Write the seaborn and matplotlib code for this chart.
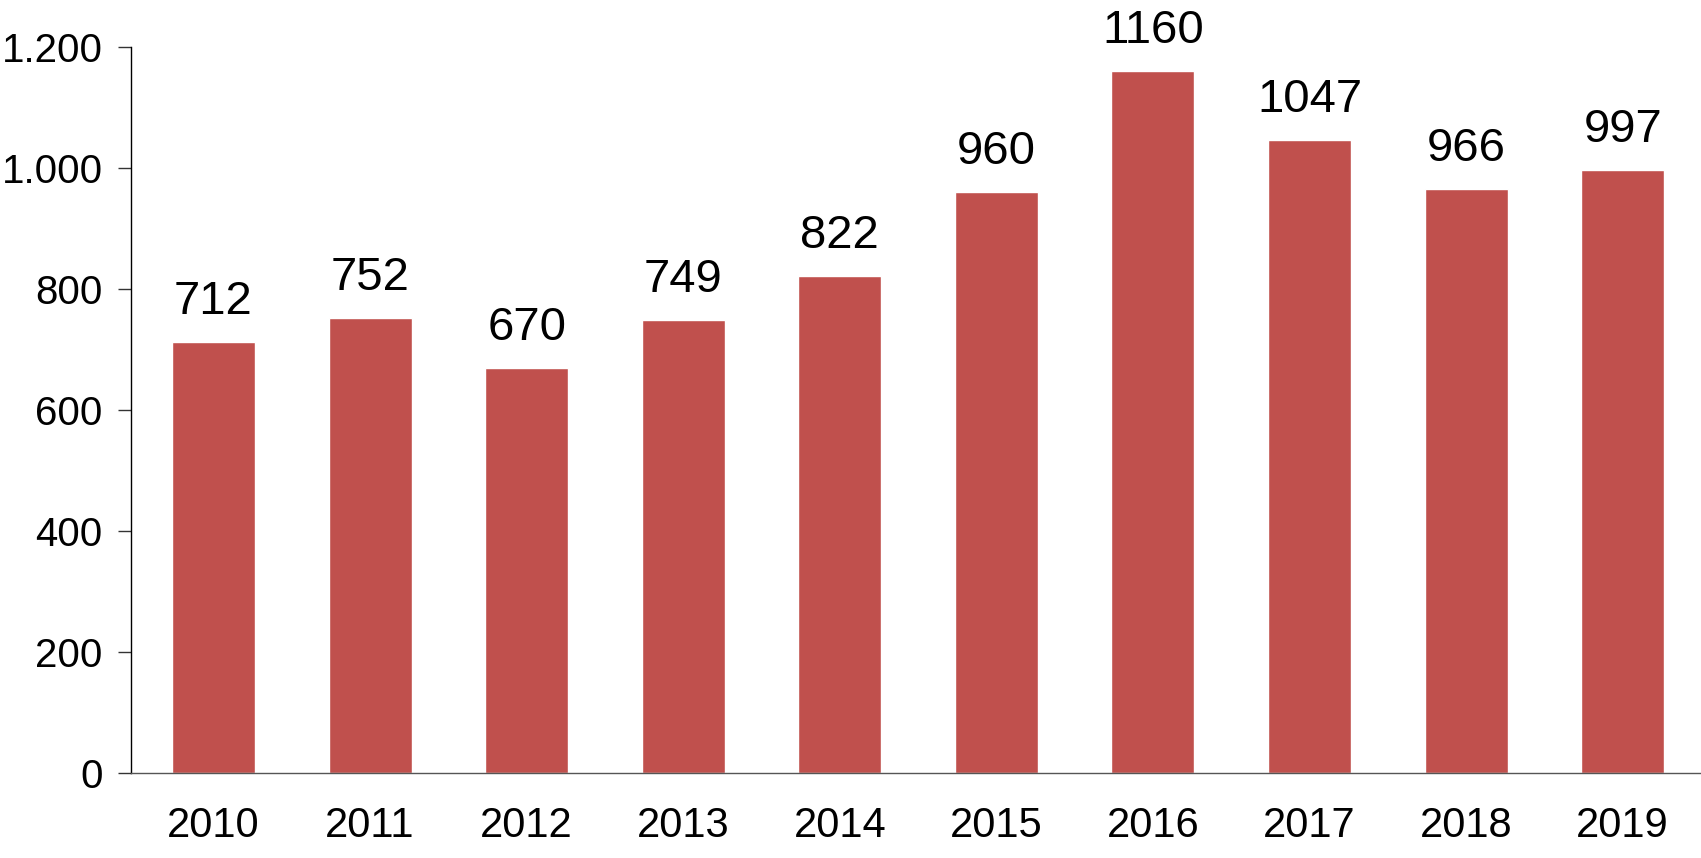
import pandas as pd
import seaborn as sns
import matplotlib.pyplot as plt

years = ['2010', '2011', '2012', '2013', '2014', '2015', '2016', '2017', '2018', '2019']
values = [712, 752, 670, 749, 822, 960, 1160, 1047, 966, 997]
ytick_vals = [0, 200, 400, 600, 800, 1000, 1200]
ytick_labels = ['0', '200', '400', '600', '800', '1.000', '1.200']

sns.set_style('white')
plt.rcParams['font.family'] = ['Liberation Sans', 'DejaVu Sans']
plt.rcParams['text.color'] = 'black'
plt.rcParams['xtick.color'] = 'black'
plt.rcParams['ytick.color'] = 'black'

df = pd.DataFrame({'year': years, 'value': values})

fig = plt.figure(figsize=(17.01, 8.58), dpi=100)
ax = fig.add_axes([0.077, 0.0994, 0.923, 0.8455])

sns.barplot(data=df, x='year', y='value', color='#C0504D', saturation=1,
            width=0.53, ax=ax)

labels = ax.bar_label(ax.containers[0], labels=[str(v) for v in values],
                      padding=13, fontsize=34, color='black')
for t in labels:
    t.set_clip_on(False)

ax.set_xlim(-0.527, 9.5)
ax.set_ylim(0, 1200)
ax.set_yticks(ytick_vals)
ax.set_yticklabels(ytick_labels)
ax.set_xlabel('')
ax.set_ylabel('')

sns.despine(ax=ax, top=True, right=True)
ax.spines['left'].set_color('black')
ax.spines['bottom'].set_color('#555555')
for s in ['left', 'bottom']:
    ax.spines[s].set_linewidth(1.0)
ax.tick_params(axis='y', length=9.4, width=1.0, color='#333333', pad=11,
               labelsize=29, left=True, labelcolor='black')
ax.tick_params(axis='x', length=0, pad=24, labelsize=30, labelcolor='black')

fig.savefig('out.png', dpi=100)
